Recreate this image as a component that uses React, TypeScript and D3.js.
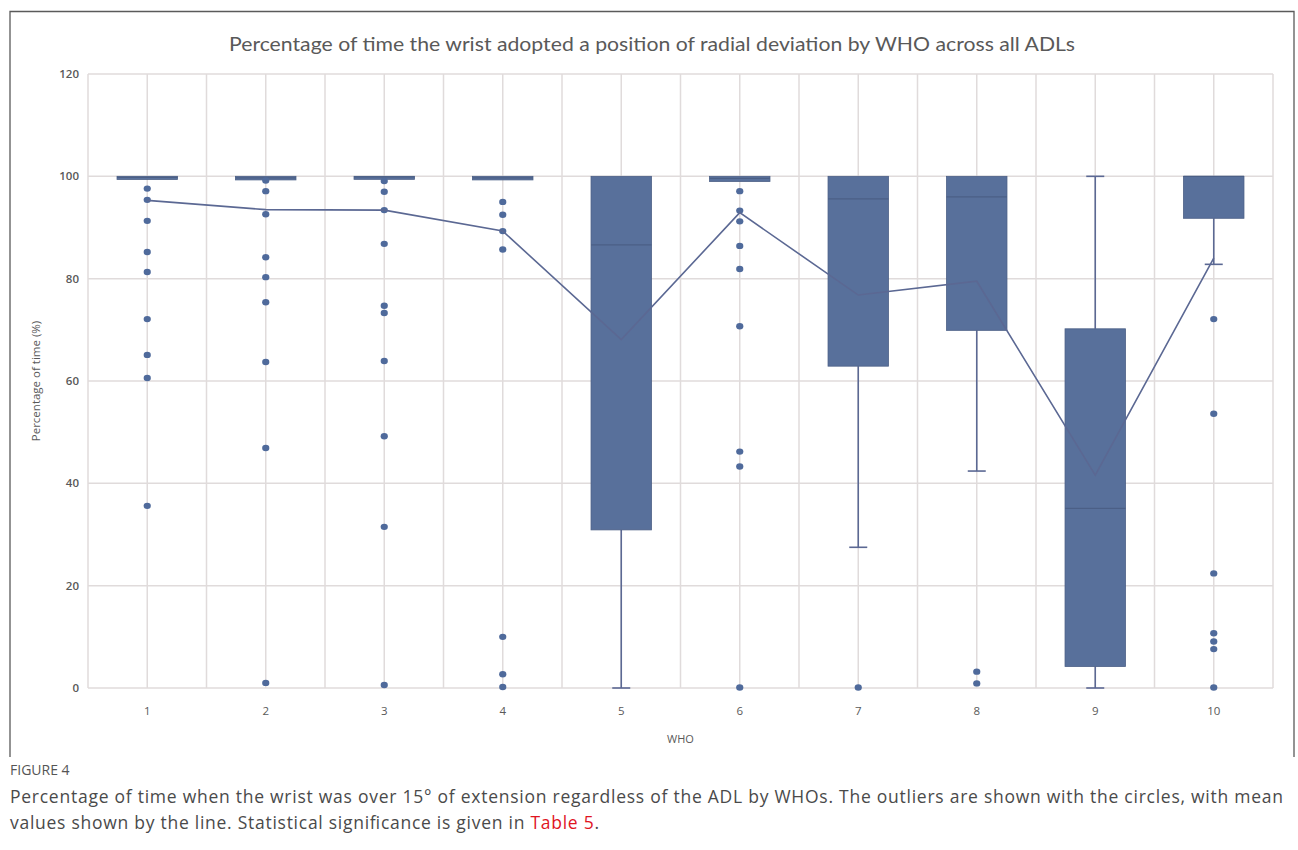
import React from "react";
import * as d3 from "d3";

const categories = ["1", "2", "3", "4", "5", "6", "7", "8", "9", "10"];
const q1 = [99.4, 99.3, 99.6, 99.3, 30.9, 99.0, 62.9, 69.9, 4.2, 91.8];
const median = [99.8, 99.7, 99.9, 99.7, 86.6, 99.6, 95.6, 96.0, 35.1, 100];
const q3 = [100, 100, 100, 100, 100, 100, 100, 100, 70.2, 100];
const whiskerLow = [99.4, 99.3, 99.6, 99.3, 0, 99.0, 27.5, 42.4, 0, 82.8];
const whiskerHigh = [100, 100, 100, 100, 100, 100, 100, 100, 100, 100];
const means = [95.3, 93.5, 93.4, 89.3, 68.1, 92.9, 76.8, 79.5, 41.6, 84.0];
const outliers: number[][] = [
  [97.6, 95.4, 91.3, 85.2, 81.3, 72.1, 65.1, 60.6, 35.6],
  [99.2, 97.1, 92.6, 84.2, 80.3, 75.4, 63.7, 46.9, 1.0],
  [99.1, 97.0, 93.4, 86.8, 74.7, 73.3, 63.9, 49.2, 31.5, 0.6],
  [95.0, 92.5, 89.3, 85.7, 10.0, 2.7, 0.2],
  [],
  [97.1, 93.3, 91.2, 86.4, 81.9, 70.7, 46.2, 43.3, 0.1],
  [0.1],
  [3.2, 0.9],
  [],
  [72.1, 53.6, 22.4, 10.7, 9.1, 7.6, 0.1],
];
const yTicks = [0, 20, 40, 60, 80, 100, 120];

const TITLE = "Percentage of time the wrist adopted a position of radial deviation by WHO across all ADLs";
const Y_TITLE = "Percentage of time (%)";
const X_TITLE = "WHO";

const W = 1298;
const H = 850;
const left = 88;
const right = 1273;
const top = 74;
const bottom = 688;

const BOX = "#58709b";
const BOX_DARK = "#4b5f86";
const LINE = "#5b6893";
const GRID = "#e0dbdb";
const TXT = "#595959";

export default function App() {
  const x = d3.scaleBand<string>().domain(categories).range([left, right]).paddingInner(0).paddingOuter(0);
  const y = d3.scaleLinear().domain([0, 120]).range([bottom, top]);
  const bw = x.bandwidth();
  const boxW = bw * 0.51;
  const cx = (i: number) => (x(categories[i]) as number) + bw / 2;

  const meanLine = d3
    .line<number>()
    .x((_, i) => cx(i))
    .y((d) => y(d))(means) as string;

  const vLines: number[] = [];
  categories.forEach((c, i) => {
    vLines.push(x(c) as number);
    vLines.push(cx(i));
  });
  vLines.push(right);

  return (
    <svg
      width={W}
      height={H}
      style={{ position: "absolute", left: 0, top: 0, background: "#fff" }}
    >
      <rect x={0} y={0} width={W} height={H} fill="#fff" />
      {/* frame */}
      <path d={`M10,757 L10,11.5 L1294,11.5 L1294,757`} fill="none" stroke="#5a5a5a" strokeWidth={1.3} />
      <text
        x={652}
        y={51}
        textAnchor="middle"
        fontFamily="Lato, 'Open Sans', sans-serif"
        fontSize={19}
        fill={TXT}
        textLength={846}
        lengthAdjust="spacingAndGlyphs"
      >
        {TITLE}
      </text>

      {/* grid */}
      {yTicks.map((t) => (
        <line key={"h" + t} x1={left} x2={right} y1={y(t)} y2={y(t)} stroke={GRID} strokeWidth={1.5} />
      ))}
      {vLines.map((v, i) => (
        <line key={"v" + i} x1={v} x2={v} y1={top} y2={bottom} stroke={GRID} strokeWidth={1.5} />
      ))}

      {/* y tick labels */}
      {yTicks.map((t) => (
        <text
          key={"yt" + t}
          x={79}
          y={y(t) + 4}
          textAnchor="end"
          fontFamily="'Open Sans', sans-serif"
          fontSize={11.5}
          fontWeight={600}
          fill={TXT}
        >
          {t}
        </text>
      ))}
      {/* x tick labels */}
      {categories.map((c, i) => (
        <text
          key={"xt" + c}
          x={cx(i)}
          y={715}
          textAnchor="middle"
          fontFamily="'Open Sans', sans-serif"
          fontSize={11.5}
          fill={TXT}
        >
          {c}
        </text>
      ))}
      <text
        x={(left + right) / 2}
        y={743}
        textAnchor="middle"
        fontFamily="'Open Sans', sans-serif"
        fontSize={11}
        fill={TXT}
      >
        {X_TITLE}
      </text>
      <text
        transform={`translate(40,${(top + bottom) / 2}) rotate(-90)`}
        textAnchor="middle"
        fontFamily="'Open Sans', sans-serif"
        fontSize={11.5}
        fill={TXT}
      >
        {Y_TITLE}
      </text>

      {/* whiskers */}
      {categories.map((c, i) => {
        const xc = cx(i);
        const cap = 9;
        return (
          <g key={"w" + c} stroke={LINE} strokeWidth={1.6}>
            {whiskerHigh[i] > q3[i] && (
              <>
                <line x1={xc} x2={xc} y1={y(q3[i])} y2={y(whiskerHigh[i])} />
                <line x1={xc - cap} x2={xc + cap} y1={y(whiskerHigh[i])} y2={y(whiskerHigh[i])} />
              </>
            )}
            {whiskerLow[i] < q1[i] && (
              <>
                <line x1={xc} x2={xc} y1={y(q1[i])} y2={y(whiskerLow[i])} />
                <line x1={xc - cap} x2={xc + cap} y1={y(whiskerLow[i])} y2={y(whiskerLow[i])} />
              </>
            )}
          </g>
        );
      })}

      {/* boxes */}
      {categories.map((c, i) => {
        const xc = cx(i);
        const yTop = y(q3[i]);
        const h = Math.max(y(q1[i]) - yTop, 3);
        return (
          <g key={"b" + c}>
            <rect
              x={xc - boxW / 2}
              y={yTop}
              width={boxW}
              height={h}
              fill={BOX}
              stroke={BOX_DARK}
              strokeWidth={0.8}
            />
            <line
              x1={xc - boxW / 2}
              x2={xc + boxW / 2}
              y1={y(median[i])}
              y2={y(median[i])}
              stroke={BOX_DARK}
              strokeWidth={1.2}
            />
          </g>
        );
      })}

      {/* outliers */}
      {outliers.map((arr, i) =>
        arr.map((v, j) => (
          <ellipse key={`o${i}-${j}`} cx={cx(i)} cy={y(v)} rx={3.6} ry={3.2} fill="#4f6a9b" />
        ))
      )}

      {/* mean line */}
      <path d={meanLine} fill="none" stroke={LINE} strokeWidth={1.6} />

      {/* caption */}
      <text x={10} y={775} fontFamily="'Open Sans', sans-serif" fontSize={14} fill="#555">
        FIGURE 4
      </text>
      <text
        x={10}
        y={803}
        fontFamily="'Open Sans', sans-serif"
        fontSize={17.5}
        fill="#4a4a4a"
        textLength={1273}
        lengthAdjust="spacing"
      >
        Percentage of time when the wrist was over 15° of extension regardless of the ADL by WHOs. The outliers are shown with the circles, with mean
      </text>
      <text
        x={10}
        y={829}
        fontFamily="'Open Sans', sans-serif"
        fontSize={17.5}
        fill="#4a4a4a"
        textLength={589}
        lengthAdjust="spacing"
      >
        values shown by the line. Statistical significance is given in <tspan fill="#e0151f">Table 5</tspan>.
      </text>
    </svg>
  );
}
